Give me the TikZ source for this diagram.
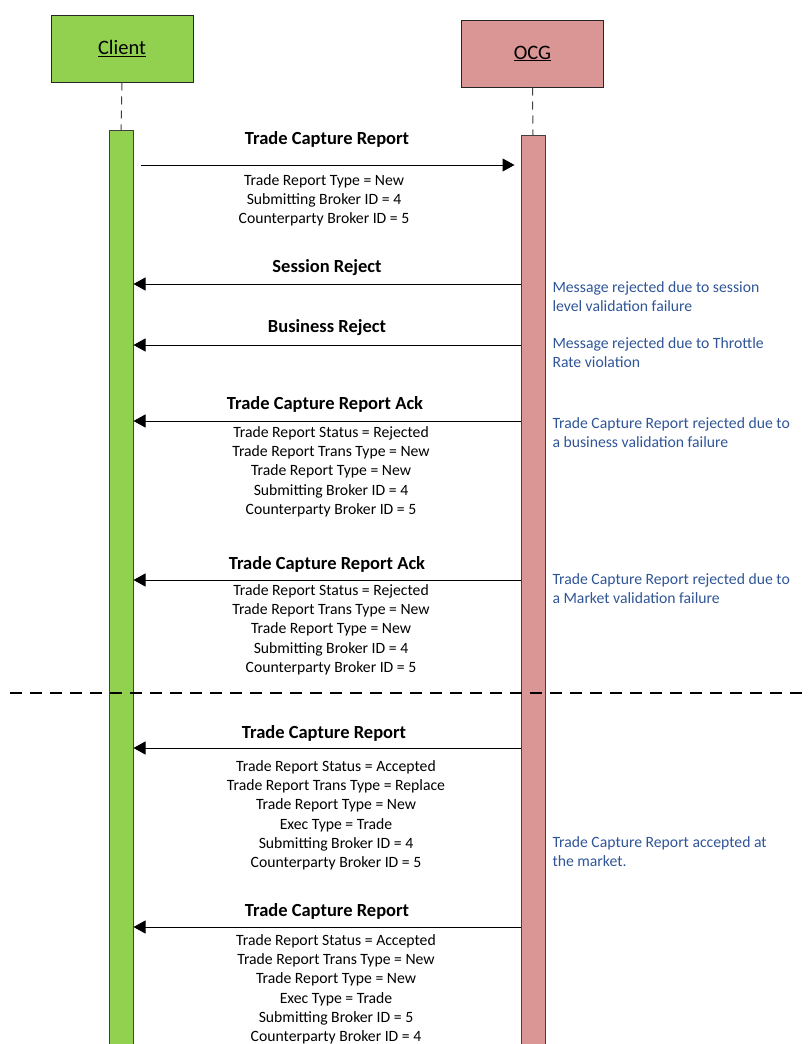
\documentclass[tikz,border=0pt]{standalone}
\usepackage{fontspec}
\setmainfont{Carlito}
\usetikzlibrary{arrows.meta}
\definecolor{clientgreen}{HTML}{92D050}
\definecolor{ocgpink}{HTML}{D99694}
\definecolor{noteblue}{HTML}{2F5597}

\begin{document}
\begin{tikzpicture}[x=1pt, y=-1pt, line width=1pt,
    head/.style={draw=black!85, minimum width=142pt, minimum height=67pt,
                 font=\fontsize{20.5}{24}\selectfont},
    bar/.style={draw=black!75, anchor=north, minimum width=24pt, inner sep=0pt},
    life/.style={draw=black!75, dash pattern=on 8pt off 6pt},
    msg/.style={-{Triangle[length=12pt,width=13pt]}},
    title/.style={font=\fontsize{18.5}{22}\selectfont\bfseries, inner sep=0pt},
    fields/.style={align=center, anchor=north, inner sep=0pt,
                   font=\fontsize{15.7}{19.2}\selectfont},
    note/.style={align=left, anchor=north west, inner sep=0pt, text=noteblue,
                 font=\fontsize{15.7}{19.2}\selectfont}]
    \useasboundingbox (0,0) rectangle (807,1044);

    % draw heads and activation bars
    \node[head, fill=clientgreen] (client) at (122,48.5) {\raisebox{-2pt}{\underline{Client}}};
    \node[head, fill=ocgpink]     (ocg)    at (532.5,53.5) {\raisebox{-2pt}{\underline{OCG}}};
    \node[bar, fill=clientgreen, minimum height=920pt] (clientbar) at (121,130) {};
    \node[bar, fill=ocgpink,     minimum height=915pt] (ocgbar)    at (533,135) {};
    \draw[life] (client.south) -- (clientbar.north);
    \draw[life] (ocg.south) -- (ocgbar.north);

    % draw separator
    \draw[line width=1.8pt, dash pattern=on 12pt off 8pt] (10,693) -- (807,693);

    % arrow heights
    \coordinate (a1) at (0,165);
    \coordinate (a2) at (0,284);
    \coordinate (a3) at (0,345);
    \coordinate (a4) at (0,421);
    \coordinate (a5) at (0,580);
    \coordinate (a6) at (0,748);
    \coordinate (a7) at (0,927);

    % new trade report
    \node[title] (t1) at (327,139) {Trade Capture Report};
    \draw[msg, shorten <=7pt, shorten >=6pt] (clientbar.east |- a1) -- (ocgbar.west |- a1);
    \node[fields] (f1) at (324,174) {Trade Report Type = New\\Submitting Broker ID = 4\\Counterparty Broker ID = 5};

    % rejects
    \node[title] (t2) at (327,268) {Session Reject};
    \draw[msg] (ocgbar.west |- a2) -- (clientbar.east |- a2);
    \node[note] (n2) at (552,281) {Message rejected due to session\\level validation failure};

    \node[title] (t3) at (327,328) {Business Reject};
    \draw[msg] (ocgbar.west |- a3) -- (clientbar.east |- a3);
    \node[note] (n3) at (552,337) {Message rejected due to Throttle\\Rate violation};

    \node[title] (t4) at (325,404) {Trade Capture Report Ack};
    \draw[msg] (ocgbar.west |- a4) -- (clientbar.east |- a4);
    \node[fields] (f4) at (331,426) {Trade Report Status = Rejected\\Trade Report Trans Type = New\\Trade Report Type = New\\Submitting Broker ID = 4\\Counterparty Broker ID = 5};
    \node[note] (n4) at (552,417) {Trade Capture Report rejected due to\\a business validation failure};

    \node[title] (t5) at (327,564) {Trade Capture Report Ack};
    \draw[msg] (ocgbar.west |- a5) -- (clientbar.east |- a5);
    \node[fields] (f5) at (331,584) {Trade Report Status = Rejected\\Trade Report Trans Type = New\\Trade Report Type = New\\Submitting Broker ID = 4\\Counterparty Broker ID = 5};
    \node[note] (n5) at (552,573) {Trade Capture Report rejected due to\\a Market validation failure};

    % accepted reports
    \node[title] (t6) at (324,733) {Trade Capture Report};
    \draw[msg] (ocgbar.west |- a6) -- (clientbar.east |- a6);
    \node[fields] (f6) at (336,760) {Trade Report Status = Accepted\\Trade Report Trans Type = Replace\\Trade Report Type = New\\Exec Type = Trade\\Submitting Broker ID = 4\\Counterparty Broker ID = 5};
    \node[note] (n6) at (552,836) {Trade Capture Report accepted at\\the market.};

    \node[title] (t7) at (327,911) {Trade Capture Report};
    \draw[msg] (ocgbar.west |- a7) -- (clientbar.east |- a7);
    \node[fields] (f7) at (336,934) {Trade Report Status = Accepted\\Trade Report Trans Type = New\\Trade Report Type = New\\Exec Type = Trade\\Submitting Broker ID = 5\\Counterparty Broker ID = 4};
\end{tikzpicture}
\end{document}
